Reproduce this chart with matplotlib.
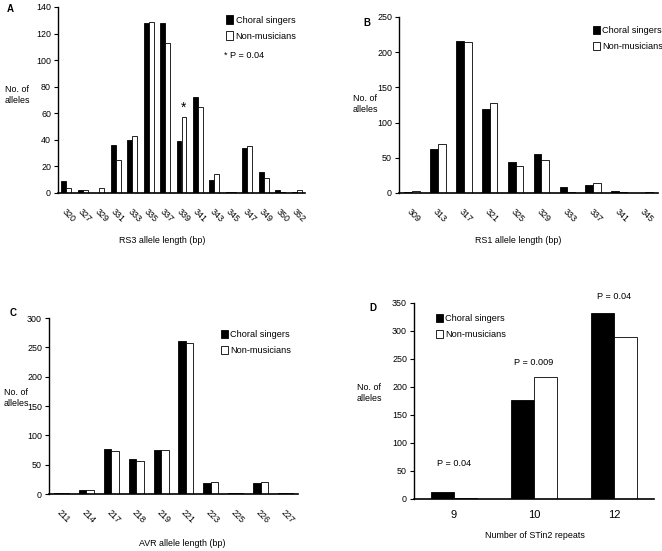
import numpy as np
import matplotlib
matplotlib.use("Agg")
import matplotlib.pyplot as plt
from matplotlib.patches import Patch

plt.rcParams['font.family'] = ['Liberation Sans', 'DejaVu Sans']
plt.rcParams['font.size'] = 6.4

# panel A: RS3
rs3_labels = ["320", "327", "329", "331", "333", "335", "337", "339", "341",
              "343", "345", "347", "349", "350", "352"]
rs3_choral = [9, 2, 0, 36, 40, 128, 128, 39, 72, 10, 1, 34, 16, 2, 1]
rs3_nonmus = [4, 2, 4, 25, 43, 129, 113, 57, 65, 14, 1, 35, 11, 1, 2]

# panel B: RS1
rs1_labels = ["309", "313", "317", "321", "325", "329", "333", "337", "341", "345"]
rs1_choral = [1, 63, 216, 120, 44, 55, 8, 12, 3, 0]
rs1_nonmus = [3, 69, 215, 128, 38, 47, 1, 14, 1, 1]

# panel C: AVR
avr_labels = ["211", "214", "217", "218", "219", "221", "223", "225", "226", "227"]
avr_choral = [1, 7, 76, 59, 75, 260, 19, 2, 18, 1]
avr_nonmus = [1, 7, 74, 57, 75, 257, 21, 2, 21, 1]

# panel D: STin2
stin_labels = ["9", "10", "12"]
stin_choral = [12, 177, 333]
stin_nonmus = [2, 218, 290]
stin_pvals = ["P = 0.04", "P = 0.009", "P = 0.04"]
stin_pval_y = [64, 243, 361]

W, H = 662, 551
fig = plt.figure(figsize=(W / 100, H / 100), dpi=100)


def box(l, t, r, b):
    return [l / W, 1 - b / H, (r - l) / W, (b - t) / H]


def bars(ax, labels, choral, nonmus, ymax, ystep, rotate=True, width=0.3):
    x = np.arange(len(labels))
    ax.bar(x - width / 2, choral, width, color='black', edgecolor='black', linewidth=0.6)
    ax.bar(x + width / 2, nonmus, width, color='white', edgecolor='black', linewidth=0.6)
    ax.set_xlim(-0.5, len(labels) - 0.5)
    ax.set_ylim(0, ymax)
    ax.set_yticks(np.arange(0, ymax + 1, ystep))
    ax.set_xticks(x)
    if rotate:
        ax.set_xticklabels(labels, rotation=-45, ha='left', va='top', rotation_mode='anchor')
        ax.tick_params(axis='x', length=0, pad=10)
    else:
        ax.set_xticklabels(labels, fontsize=8)
        ax.tick_params(axis='x', length=0, pad=8)
    ax.tick_params(axis='y', length=3, width=0.8, pad=2)
    for s in ['top', 'right']:
        ax.spines[s].set_visible(False)
    ax.spines['left'].set_linewidth(1.0)
    ax.spines['bottom'].set_linewidth(1.2)
    return x


def legend(ax, loc_xy):
    handles = [Patch(facecolor='black', edgecolor='black', linewidth=0.6, label='Choral singers'),
               Patch(facecolor='white', edgecolor='black', linewidth=0.6, label='Non-musicians')]
    ax.legend(handles=handles, loc='upper left', bbox_to_anchor=loc_xy, frameon=False,
              handlelength=0.8, handleheight=1.0, handletextpad=0.25, labelspacing=0.75,
              fontsize=6.6, borderaxespad=0)


def ylab(x, y):
    fig.text(x / W, 1 - y / H, "No. of\nalleles", ha='center', va='center', linespacing=1.4)


# A
axA = fig.add_axes(box(58, 7, 305, 193))
xA = bars(axA, rs3_labels, rs3_choral, rs3_nonmus, 140, 20)
legend(axA, (0.665, 0.975))
axA.text(0.672, 0.74, "* P = 0.04", transform=axA.transAxes, fontsize=6.6, va='center')
axA.text(xA[7] + 0.15, rs3_nonmus[7] + 2, "*", ha='center', va='bottom', fontsize=10)
fig.text(7 / W, 1 - 9 / H, "A", fontweight='bold', fontsize=7, va='center')
ylab(17, 95)
fig.text(162 / W, 1 - 240 / H, "RS3 allele length (bp)", ha='center', va='center')

# B
axB = fig.add_axes(box(399, 17, 658, 193))
bars(axB, rs1_labels, rs1_choral, rs1_nonmus, 250, 50)
legend(axB, (0.733, 0.97))
fig.text(363 / W, 1 - 23 / H, "B", fontweight='bold', fontsize=7, va='center')
ylab(365, 104)
fig.text(518 / W, 1 - 240 / H, "RS1 allele length (bp)", ha='center', va='center')

# C
axC = fig.add_axes(box(49, 318, 298, 494))
bars(axC, avr_labels, avr_choral, avr_nonmus, 300, 50)
legend(axC, (0.675, 0.955))
fig.text(10 / W, 1 - 313 / H, "C", fontweight='bold', fontsize=7, va='center')
ylab(16, 398)
fig.text(182 / W, 1 - 543 / H, "AVR allele length (bp)", ha='center', va='center')

# D
axD = fig.add_axes(box(414, 303, 654, 499))
xD = bars(axD, stin_labels, stin_choral, stin_nonmus, 350, 50, rotate=False, width=0.29)
legend(axD, (0.075, 0.965))
for xi, py, p in zip(xD, stin_pval_y, stin_pvals):
    axD.text(xi, py, p, ha='center', va='center', fontsize=6.6, clip_on=False)
fig.text(369 / W, 1 - 308 / H, "D", fontweight='bold', fontsize=7, va='center')
ylab(369, 393)
fig.text(535 / W, 1 - 536 / H, "Number of STin2 repeats", ha='center', va='center')

fig.savefig("out.png", dpi=100)
